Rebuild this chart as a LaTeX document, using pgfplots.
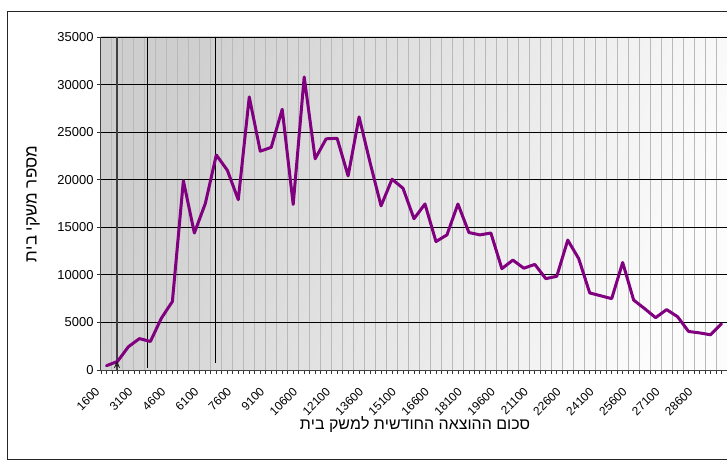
\documentclass[border=0pt]{standalone}
\usepackage{fontspec}
\setmainfont{Liberation Sans}
\usepackage{pgfplots}
\pgfplotsset{compat=1.18}
\TeXXeTstate=1
\definecolor{lineP}{RGB}{128,0,128}
\definecolor{bgL}{RGB}{206,206,206}
\definecolor{bgR}{RGB}{252,252,252}
\begin{document}
\begin{tikzpicture}
\useasboundingbox (-101bp,-92bp) rectangle (626bp,370bp);
\fill[white] (-101bp,-92bp) rectangle (626bp,370bp);
\draw[black!85, line width=1bp] (-93bp,358bp) rectangle (640bp,-89bp);
\begin{axis}[
  at={(0,0)}, anchor=south west,
  scale only axis, width=626bp, height=333bp,
  xmin=1350, xmax=29850, ymin=0, ymax=35000,
  axis lines*=left,
  axis line style={-, black!75, line width=1bp},
  xtick={1600,2100,...,29600},
  xticklabels={1600,,,3100,,,4600,,,6100,,,7600,,,9100,,,10600,,,12100,,,13600,,,15100,,,16600,,,18100,,,19600,,,21100,,,22600,,,24100,,,25600,,,27100,,,28600,,},
  minor xtick={1350,1850,...,29850},
  xminorgrids, ymajorgrids,
  minor grid style={gray!55, line width=1bp},
  major grid style={black, line width=0.8bp},
  ytick={0,5000,...,35000},
  tick align=outside,
  major tick length=4bp, minor tick length=4bp,
  every tick/.style={black!80, line width=0.8bp},
  scaled x ticks=false, scaled y ticks=false,
  /pgf/number format/1000 sep={},
  /pgf/number format/assume math mode=true,
  yticklabel style={font=\fontsize{13}{15}\selectfont},
  xticklabel style={font=\fontsize{12}{14}\selectfont, xshift=-12bp, yshift=-11bp, rotate=45, anchor=north east, inner sep=1pt},
  axis background/.style={left color=bgL, right color=bgR, shading angle=70},
  xlabel={\beginR סכום ההוצאה החודשית למשק בית\endR},
  ylabel={\beginR מספר משקי בית\endR},
  every axis x label/.style={at={(axis description cs:0.5016,-0.165)}, anchor=center, font=\fontsize{16}{18}\selectfont},
  every axis y label/.style={at={(axis description cs:-0.1086,0.4985)}, anchor=center, rotate=90, font=\fontsize{17}{19}\selectfont},
]
\addplot[black!75, line width=2bp, forget plot] coordinates {(2080,0) (2080,35000)};
\addplot[black, line width=1bp, forget plot] coordinates {(3460,210) (3460,35000)};
\addplot[black, line width=1bp, forget plot] coordinates {(6555,740) (6555,35000)};
\addplot[lineP, line width=3bp, line join=round, line cap=round, mark=none] coordinates {
(1600,450) (2100,900) (2600,2450) (3100,3300) (3600,3000) (4100,5450)
(4600,7200) (5100,19900) (5600,14400) (6100,17500) (6600,22600) (7100,21000)
(7600,17900) (8100,28700) (8600,23000) (9100,23400) (9600,27400) (10100,17400)
(10600,30800) (11100,22200) (11600,24300) (12100,24350) (12600,20400) (13100,26600)
(13600,21800) (14100,17250) (14600,20050) (15100,19100) (15600,15900) (16100,17450)
(16600,13500) (17100,14200) (17600,17450) (18100,14450) (18600,14200) (19100,14400)
(19600,10650) (20100,11550) (20600,10700) (21100,11100) (21600,9600) (22100,9850)
(22600,13650) (23100,11700) (23600,8100) (24100,7800) (24600,7500) (25100,11300)
(25600,7350) (26100,6450) (26600,5500) (27100,6350) (27600,5600) (28100,4050)
(28600,3900) (29100,3700) (29600,4850)
};
\node[font=\fontsize{9}{10}\selectfont, anchor=south, inner sep=0pt] at (axis cs:2080,120) {A};
\end{axis}
\end{tikzpicture}
\end{document}
